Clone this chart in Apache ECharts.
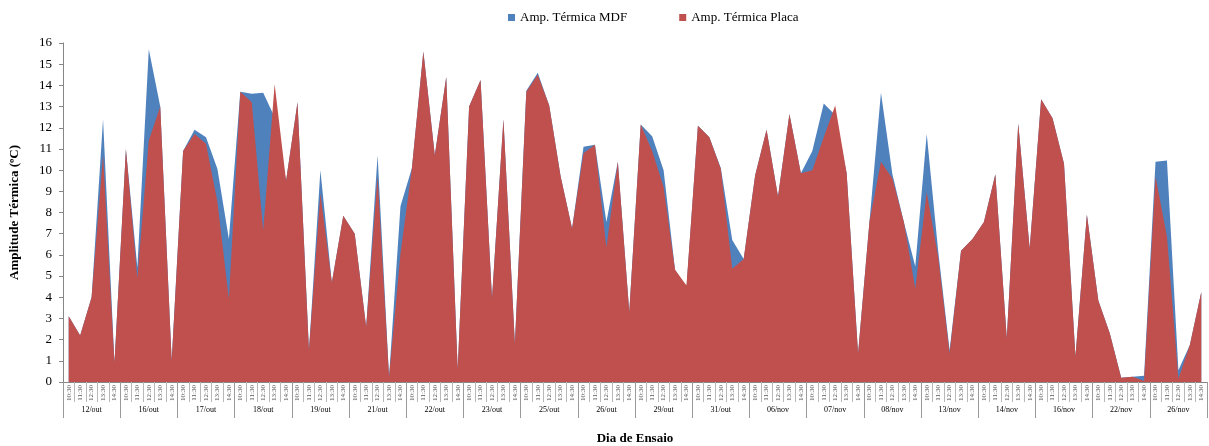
<!DOCTYPE html>
<html>
<head>
<meta charset="utf-8">
<script src="https://cdn.jsdelivr.net/npm/echarts@6/dist/echarts.min.js"></script>
<style>
  html, body { margin: 0; padding: 0; background: #ffffff; }
  #chart { width: 1209px; height: 446px; }
</style>
</head>
<body>
<div id="chart"></div>
<script>
// Test days; each day has five readings (10:30 .. 14:30)
const dias = ['12/out', '16/out', '17/out', '18/out', '19/out', '21/out', '22/out', '23/out', '25/out', '26/out',
              '29/out', '31/out', '06/nov', '07/nov', '08/nov', '13/nov', '14/nov', '16/nov', '22/nov', '26/nov'];
const horarios = ['10:30', '11:30', '12:30', '13:30', '14:30'];

// Thermal amplitude (ºC) per reading
const ampMDF = [
  3.1, 2.2, 4.0, 12.4, 0.9,   11.0, 5.4, 15.7, 13.0, 1.0,
  10.9, 11.9, 11.55, 10.05, 6.75,   13.7, 13.6, 13.65, 12.5, 9.5,
  13.2, 1.5, 10.0, 4.7, 7.85,   7.0, 2.6, 10.7, 0.25, 8.3,
  10.1, 15.6, 10.7, 14.4, 0.6,   13.0, 14.25, 3.95, 12.4, 1.8,
  13.75, 14.6, 13.05, 9.7, 7.25,   11.1, 11.2, 7.55, 10.4, 3.3,
  12.15, 11.6, 10.0, 5.3, 4.45,   12.1, 11.55, 10.1, 6.7, 5.8,
  9.75, 11.9, 8.75, 12.65, 9.85,   10.9, 13.15, 12.6, 9.85, 1.35,
  7.6, 13.65, 9.8, 7.55, 5.45,   11.7, 6.2, 1.5, 6.2, 6.75,
  7.55, 9.8, 2.05, 12.2, 6.3,   13.35, 12.45, 10.3, 1.2, 7.9,
  3.85, 2.3, 0.2, 0.25, 0.3,   10.4, 10.45, 0.55, 1.75, 4.25
];
const ampPlaca = [
  3.1, 2.2, 4.0, 10.7, 0.9,   11.0, 4.9, 11.4, 13.0, 1.0,
  10.9, 11.7, 11.25, 8.5, 3.9,   13.7, 13.2, 7.15, 14.05, 9.5,
  13.2, 1.5, 8.9, 4.7, 7.85,   7.0, 2.6, 9.7, 0.25, 6.05,
  10.1, 15.6, 10.7, 14.4, 0.6,   13.0, 14.25, 3.95, 12.4, 1.8,
  13.7, 14.5, 13.05, 9.7, 7.25,   10.8, 11.2, 6.35, 10.4, 3.3,
  12.15, 10.9, 9.2, 5.3, 4.55,   12.1, 11.55, 10.05, 5.35, 5.8,
  9.75, 11.9, 8.75, 12.65, 9.85,   10.0, 11.55, 13.05, 9.85, 1.35,
  7.6, 10.4, 9.6, 7.55, 4.4,   8.95, 5.9, 1.35, 6.2, 6.75,
  7.55, 9.8, 2.05, 12.2, 6.3,   13.35, 12.45, 10.3, 1.2, 7.9,
  3.85, 2.3, 0.2, 0.25, 0.05,   9.7, 6.85, 0.15, 1.75, 4.25
];

// One category per reading on the inner axis, one per day on the outer axis
const leituras = [];
dias.forEach(() => horarios.forEach(h => leituras.push(h)));

const FONT = 'Liberation Serif';
const AXIS_GREY = '#868686';

const chart = echarts.init(document.getElementById('chart'));
chart.setOption({
  animation: false,
  textStyle: { fontFamily: FONT, color: '#000' },
  color: ['#4F81BD', '#C0504D'],
  legend: {
    top: 6,
    left: 503,
    itemWidth: 7,
    itemHeight: 7,
    itemGap: 52,
    icon: 'rect',
    textStyle: { fontFamily: FONT, fontSize: 13, color: '#000' },
    data: ['Amp. Térmica MDF', 'Amp. Térmica Placa']
  },
  grid: { left: 63, right: 2, top: 43, bottom: 64, containLabel: false, outerBoundsMode: 'none' },
  xAxis: [
    {
      type: 'category',
      data: leituras,
      boundaryGap: true,
      position: 'bottom',
      axisLine: { show: true, lineStyle: { color: AXIS_GREY, width: 1 } },
      axisTick: { show: true, interval: 0, length: 20, lineStyle: { color: '#b8b8b8' } },
      axisLabel: { interval: 0, rotate: 90, fontSize: 7, margin: 3, color: '#555', fontFamily: FONT },
      splitLine: { show: false }
    },
    {
      type: 'category',
      data: dias,
      boundaryGap: true,
      position: 'bottom',
      axisLine: { show: false },
      axisTick: { show: true, interval: 0, length: 36, lineStyle: { color: '#9a9a9a' } },
      axisLabel: { interval: 0, fontSize: 8, margin: 24, color: '#000', fontFamily: FONT },
      name: 'Dia de Ensaio',
      nameLocation: 'middle',
      nameGap: 50,
      nameTextStyle: { fontFamily: FONT, fontSize: 13, fontWeight: 'bold', color: '#000' },
      splitLine: { show: false }
    }
  ],
  yAxis: {
    type: 'value',
    min: 0,
    max: 16,
    interval: 1,
    name: 'Amplitude Térmica (ºC)',
    nameLocation: 'middle',
    nameRotate: 90,
    nameGap: 42,
    nameTextStyle: { fontFamily: FONT, fontSize: 13, fontWeight: 'bold', color: '#000' },
    axisLine: { show: true, lineStyle: { color: AXIS_GREY, width: 1 } },
    axisTick: { show: true, length: 4, lineStyle: { color: AXIS_GREY } },
    axisLabel: { fontSize: 13, margin: 11, color: '#000', fontFamily: FONT },
    splitLine: { show: false }
  },
  series: [
    {
      name: 'Amp. Térmica MDF',
      type: 'line',
      data: ampMDF,
      xAxisIndex: 0,
      symbol: 'none',
      lineStyle: { width: 0 },
      areaStyle: { color: '#4F81BD', opacity: 1 },
      z: 2
    },
    {
      name: 'Amp. Térmica Placa',
      type: 'line',
      data: ampPlaca,
      xAxisIndex: 0,
      symbol: 'none',
      lineStyle: { width: 0 },
      areaStyle: { color: '#C0504D', opacity: 1 },
      z: 3
    }
  ]
});
</script>
</body>
</html>
